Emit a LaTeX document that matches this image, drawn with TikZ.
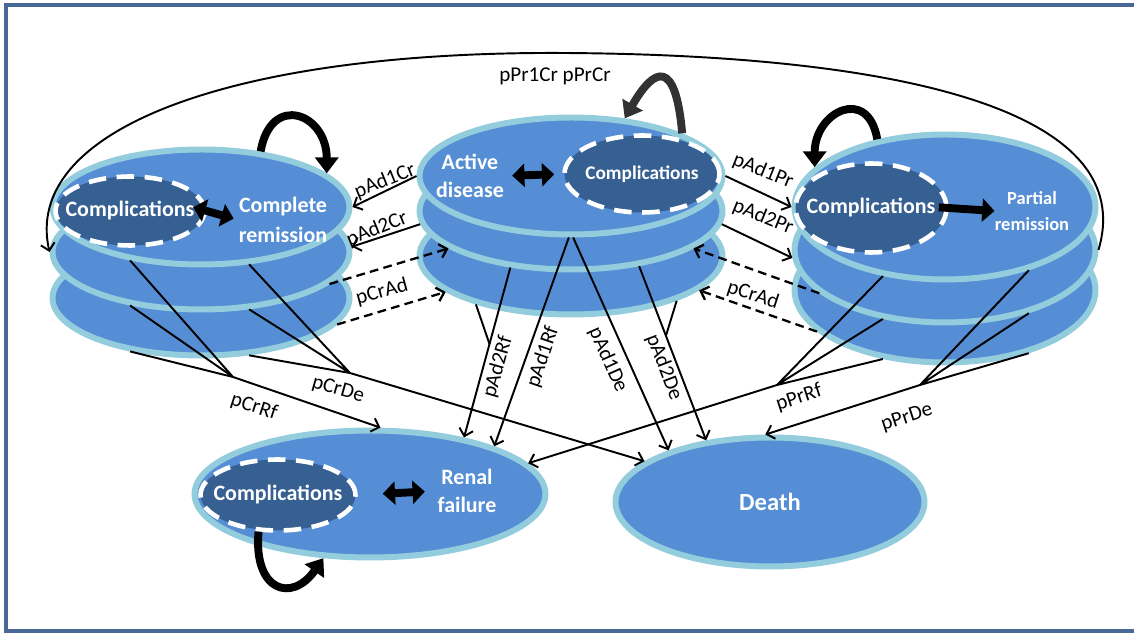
\documentclass[tikz,border=0pt]{standalone}
\usepackage{fontspec}
\setmainfont{Carlito}
\usepackage{tikz}
\usetikzlibrary{arrows.meta, positioning, shapes.geometric, calc}
\definecolor{diskblue}{RGB}{85,142,213}
\definecolor{diskrim}{RGB}{147,205,221}
\definecolor{compblue}{RGB}{55,96,146}
\definecolor{framegray}{RGB}{72,104,150}
\definecolor{loopgray}{RGB}{50,50,50}

\begin{document}
\begin{tikzpicture}[x=0.02cm, y=0.02cm,
    disk/.style={ellipse, draw=diskrim, fill=diskblue, line width=3.4pt, inner sep=0pt},
    crdisk/.style={disk, minimum width=5.94cm, minimum height=2.3cm},
    addisk/.style={disk, minimum width=6.06cm, minimum height=2.34cm},
    prdisk/.style={disk, minimum width=6.02cm, minimum height=2.9cm},
    comp/.style={ellipse, draw=white, fill=compblue, line width=2.6pt, dash pattern=on 10pt off 6pt,
        inner ysep=0pt, inner xsep=-0.3cm, text=white, font=\bfseries\fontsize{12.5}{14}\selectfont},
    stxt/.style={text=white, font=\bfseries\fontsize{12.5}{17}\selectfont, align=center, inner sep=0pt},
    lbl/.style={font=\fontsize{12}{13}\selectfont, inner sep=1pt},
    trans/.style={line width=1.1pt, -{Straight Barb[length=4pt,width=8pt]}},
    back/.style={trans, line width=1.3pt, dash pattern=on 5pt off 3pt},
    feed/.style={line width=1.1pt},
    selfloop/.style={line width=4.5pt, -{Triangle[length=9pt,width=13pt]}},
    swap/.style={line width=4.5pt, {Triangle[length=7pt,width=13pt]}-{Triangle[length=7pt,width=13pt]}}
]
\useasboundingbox (0,0) rectangle (1134,-634);
\draw[framegray, line width=1.8pt] (1134,-5) -- (6,-5) -- (6,-631) -- (1134,-631);

% complete remission
\node[crdisk] (cr3) at (201,-298) {};
\node[crdisk] (cr2) at (201,-252) {};
\node[crdisk] (cr1) at (201,-207) {};
\node[comp, minimum width=2.98cm, minimum height=1.38cm] (crc) at (130,-211) {Complications};
\node[stxt] (crtext) at (283,-220) {Complete\\remission};

% active disease
\node[addisk] (ad3) at (571,-256) {};
\node[addisk] (ad2) at (571,-211) {};
\node[addisk] (ad1) at (571,-176) {};
\node[comp, minimum width=3.1cm, minimum height=1.54cm, font=\bfseries\fontsize{11}{13}\selectfont] (adc) at (642,-174) {Complications};
\node[stxt, font=\bfseries\fontsize{12.5}{16}\selectfont] (adtext) at (470,-176) {Active\\disease};

% partial remission
\node[prdisk] (pr3) at (945,-290) {};
\node[prdisk] (pr2) at (945,-250) {};
\node[prdisk] (pr1) at (945,-207) {};
\node[comp, minimum width=3.02cm, minimum height=1.78cm] (prc) at (871,-208) {Complications};
\node[stxt, font=\bfseries\fontsize{10.5}{14.7}\selectfont] (prtext) at (1032,-211) {Partial\\remission};

% renal failure and death
\node[disk, minimum width=7.02cm, minimum height=2.54cm] (rf) at (370,-494) {};
\node[comp, minimum width=3.1cm, minimum height=1.42cm] (rfc) at (278,-495) {Complications};
\node[stxt, font=\bfseries\fontsize{12.5}{16}\selectfont] (rftext) at (467,-491) {Renal\\failure};
\node[disk, minimum width=6.18cm, minimum height=2.58cm, text=white,
    font=\bfseries\fontsize{14}{16}\selectfont] (de) at (770,-502) {Death};

% complications <-> state
\draw[swap, shorten <=-0.28cm, shorten >=0.1cm] (crc.east) -- (crtext.west);
\draw[swap, shorten <=0.16cm, shorten >=0.16cm] (adtext.east) -- (adc.west);
\draw[swap, shorten <=0.5cm, shorten >=0.25cm] (rfc.east) -- (rftext.west);
\draw[line width=4.5pt, -{Triangle[length=7pt,width=13pt]}, shorten <=-0.2cm] (prc.east) -- (prtext.west);

% staying in a state
\draw[selfloop] (cr1.43) .. controls +(80:60) and +(90:60) .. (cr1.15);
\draw[selfloop, loopgray] (ad1.21) .. controls +(95:75) and +(60:60) .. (ad1.47);
\draw[selfloop] (pr1.135) .. controls +(100:55) and +(90:55) .. (pr1.163);
\draw[selfloop] (rfc.242) .. controls +(265:60) and +(235:55) .. (rf.234);

% partial -> complete remission
\coordinate (arctop) at (564,-53);
\draw[trans] (pr2.east) .. controls (1140,-110) and (900,-55) .. (arctop)
    .. controls (230,-51) and (22,-130) .. (cr2.west);
\node[lbl] (lPrCr) at (555,-76) {pPr1Cr pPrCr};

% active disease <-> remission
\draw[trans] (ad1.180) -- (cr1.0);
\draw[trans] (ad2.185) -- (cr2.2);
\draw[back] (cr2.346) -- (ad2.197);
\draw[back] (cr3.349) -- (ad3.196);
\draw[trans] (ad1.0) -- (pr1.180);
\draw[trans] (ad2.355) -- (pr2.183);
\draw[back] (pr2.199) -- (ad2.343);
\draw[back] (pr3.198) -- (ad3.345);
\node[lbl, rotate=22] (lAd1Cr) at (385,-181) {pAd1Cr};
\node[lbl, rotate=22] (lAd2Cr) at (377,-229) {pAd2Cr};
\node[lbl, rotate=15] (lCrAd) at (382,-292) {pCrAd};
\node[lbl, rotate=-22] (lAd1Pr) at (763,-171) {pAd1Pr};
\node[lbl, rotate=-22] (lAd2Pr) at (763,-217) {pAd2Pr};
\node[lbl, rotate=-18] (lPrAd) at (753,-295) {pCrAd};

% complete remission -> renal failure, death
\coordinate (crrf) at (233,-377);
\coordinate (crde) at (350,-373);
\draw[feed] (cr1.217) -- (crrf) (cr2.217) -- (crrf) (cr3.217) -- (crrf);
\draw[feed] (cr1.310) -- (crde) (cr2.310) -- (crde) (cr3.310) -- (crde);
\draw[trans] (crrf) -- (rf.81);
\draw[trans] (crde) -- (de.162);
\node[lbl, rotate=-18] (lCrRf) at (254,-407) {pCrRf};
\node[lbl, rotate=-16] (lCrDe) at (338,-390) {pCrDe};

% partial remission -> renal failure, death
\coordinate (prrf) at (777,-385);
\coordinate (prde) at (920,-385);
\draw[feed] (pr1.228) -- (prrf) (pr2.228) -- (prrf) (pr3.228) -- (prrf);
\draw[feed] (pr1.323) -- (prde) (pr2.323) -- (prde) (pr3.323) -- (prde);
\draw[trans] (prrf) -- (rf.11);
\draw[trans] (prde) -- (de.94);
\node[lbl, rotate=18] (lPrRf) at (799,-398) {pPrRf};
\node[lbl, rotate=18] (lPrDe) at (907,-418) {pPrDe};

% active disease -> renal failure, death
\draw[trans] (ad2.223) -- (rf.31) coordinate[pos=0.45] (adrf);
\draw[feed] (ad3.207) -- (adrf);
\draw[trans] (ad1.268) -- (rf.21);
\draw[trans] (ad1.272) -- (de.153);
\draw[trans] (ad2.321) -- (de.136) coordinate[pos=0.4] (adde);
\draw[feed] (ad3.337) -- (adde);
\node[lbl, rotate=74] (lAd2Rf) at (498,-367) {pAd2Rf};
\node[lbl, rotate=71] (lAd1Rf) at (543,-357) {pAd1Rf};
\node[lbl, rotate=-66] (lAd1De) at (608,-360) {pAd1De};
\node[lbl, rotate=-69] (lAd2De) at (664,-367) {pAd2De};
\end{tikzpicture}
\end{document}
